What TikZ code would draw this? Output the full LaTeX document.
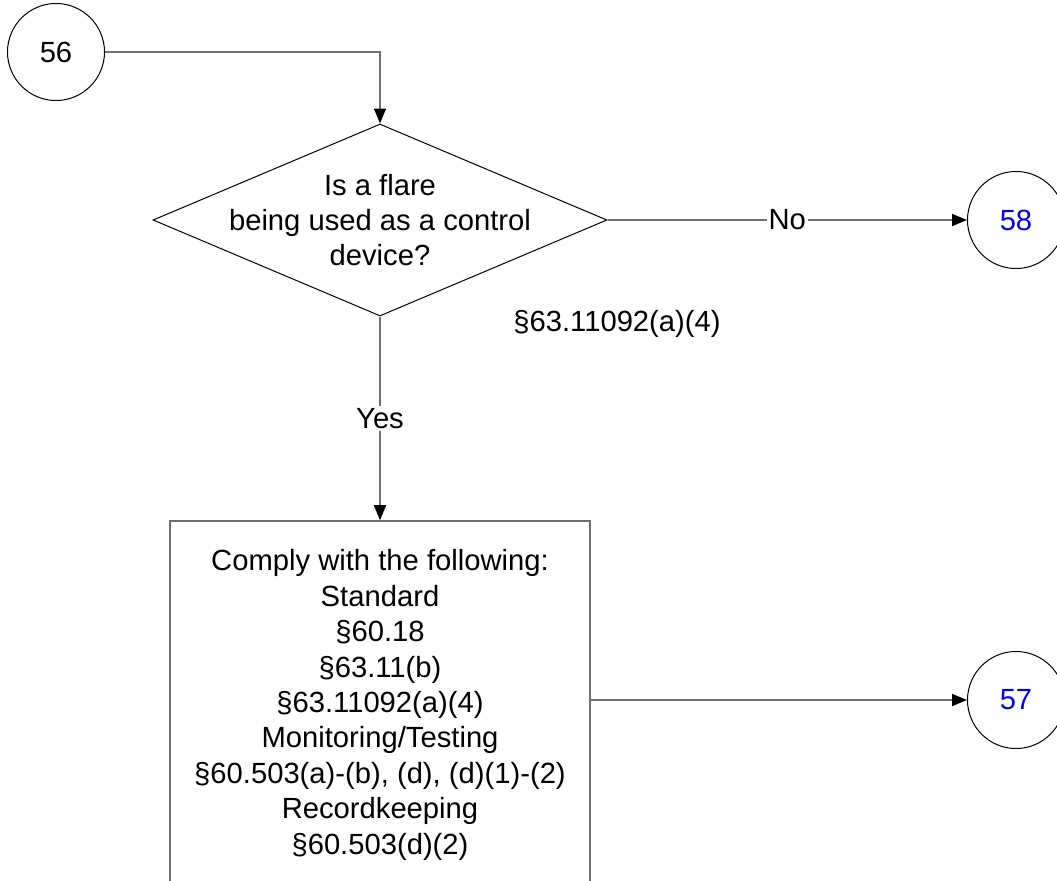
\documentclass[tikz,border=0pt]{standalone}
\usepackage{fontspec}
\setmainfont{Liberation Sans}
\usetikzlibrary{arrows.meta, positioning, shapes.geometric}
\definecolor{linegray}{RGB}{112,112,112}
\definecolor{refblue}{RGB}{0,0,255}

\begin{document}
\begin{tikzpicture}[
    x             = 0.5pt,
    y             = -0.5pt,
    font          = \fontsize{14.6}{17.7}\selectfont,
    conn/.style   = {draw, circle, minimum size=48.5pt, inner sep=0pt,
                     line width=0.5pt},
    decision/.style = {draw, diamond, minimum width=227pt,
                     minimum height=96pt, inner sep=0pt, line width=0.5pt},
    action/.style = {draw=linegray, rectangle, minimum width=210pt,
                     minimum height=184pt, align=center, line width=0.8pt},
    arr/.style    = {-{Triangle[width=6pt, length=7.5pt, color=black]},
                     linegray, line width=0.8pt},
    lbl/.style    = {fill=white, inner sep=1pt, text=black},
  ]
  \useasboundingbox (0,0) rectangle (1057,880);
  \node[conn] (c56) at (56,52) {56};
  \node[decision] (flare) at (380,220) {};
  \node[align=center] (flaretxt) at (flare.center)
        {Is a flare\\being used as a control\\device?};
  \node (citeA) at (617,324) {§63.11092(a)(4)};
  \node[conn, text=refblue] (c58) at (1016,220) {58};
  \node[action] (comply) at (380,705)
        {Comply with the following:\\Standard\\§60.18\\§63.11(b)\\
         §63.11092(a)(4)\\Monitoring/Testing\\§60.503(a)-(b), (d), (d)(1)-(2)\\
         Recordkeeping\\§60.503(d)(2)};
  \node[conn, text=refblue] (c57) at (1016,700) {57};
  \draw[arr] (c56.east) -| (flare.north);
  \draw[arr] (flare.east) -- (c58.west)
        node[midway, lbl] {No};
  \draw[arr] (flare.south) -- (comply.north)
        node[midway, lbl] {Yes};
  \draw[arr] (comply.east |- c57.west) -- (c57.west);
\end{tikzpicture}
\end{document}
